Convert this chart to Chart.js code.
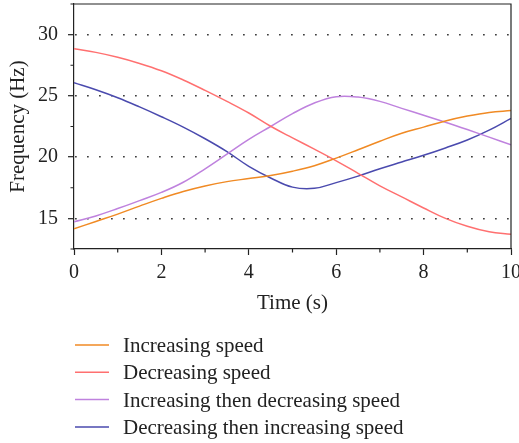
<!DOCTYPE html>
<html>
<head>
<meta charset="utf-8">
<script src="https://cdn.jsdelivr.net/npm/chart.js@4.4.1/dist/chart.umd.min.js"></script>
<style>
  html, body { margin: 0; padding: 0; background: #fff; }
  #wrap { width: 519px; height: 443px; }
</style>
</head>
<body>
<div id="wrap"><canvas id="c" width="519" height="443"></canvas></div>
<script>
// Time samples (s)
const timeS = [0, 0.5, 1, 1.5, 2, 2.5, 3, 3.5, 4, 4.5, 5, 5.5, 6, 6.5, 7, 7.5, 8, 8.5, 9, 9.5, 10];

// Frequency (Hz) for each speed profile
const increasingSpeed = [14.15, 14.75, 15.35, 16.0, 16.63, 17.2, 17.65, 18.0, 18.25, 18.5, 18.85, 19.3, 19.92, 20.6, 21.3, 21.95, 22.45, 22.95, 23.35, 23.65, 23.8];
const decreasingSpeed = [28.85, 28.55, 28.15, 27.65, 27.05, 26.3, 25.45, 24.55, 23.6, 22.52, 21.57, 20.65, 19.7, 18.68, 17.65, 16.75, 15.85, 15.0, 14.35, 13.9, 13.7];
const incThenDecSpeed = [14.72, 15.2, 15.8, 16.45, 17.12, 17.95, 19.05, 20.25, 21.45, 22.5, 23.55, 24.42, 24.93, 24.9, 24.55, 23.98, 23.42, 22.85, 22.25, 21.63, 21.0];
const decThenIncSpeed = [26.07, 25.5, 24.85, 24.1, 23.3, 22.45, 21.5, 20.45, 19.25, 18.3, 17.55, 17.45, 17.92, 18.45, 19.05, 19.6, 20.15, 20.75, 21.4, 22.2, 23.16];

const seriesLabels = ['Increasing speed', 'Decreasing speed', 'Increasing then decreasing speed', 'Decreasing then increasing speed'];
const seriesColors = ['#f08a24', '#ff7070', '#bf82de', '#4a4aae'];
const seriesValues = [increasingSpeed, decreasingSpeed, incThenDecSpeed, decThenIncSpeed];

const yMajorTicks = [15, 20, 25, 30];
const xMajorTicks = [0, 2, 4, 6, 8, 10];

const FONT = '"Liberation Serif", "DejaVu Serif", serif';
const INK = '#222';

// Frame (top/right edges) plus short minor tick marks on both axes
const frame = {
  id: 'frame',
  afterDraw(chart) {
    const { ctx, chartArea: a, scales } = chart;
    ctx.save();
    ctx.strokeStyle = INK;
    ctx.lineWidth = 1.2;
    ctx.beginPath();
    ctx.moveTo(a.left, a.top);
    ctx.lineTo(a.right, a.top);
    ctx.lineTo(a.right, a.bottom);
    ctx.stroke();

    const minorLen = 3.5;
    ctx.beginPath();
    scales.y.ticks.forEach(t => {
      if (yMajorTicks.includes(t.value)) return;
      const y = scales.y.getPixelForValue(t.value);
      ctx.moveTo(a.left - minorLen, y);
      ctx.lineTo(a.left, y);
    });
    scales.x.ticks.forEach(t => {
      if (xMajorTicks.includes(t.value)) return;
      const x = scales.x.getPixelForValue(t.value);
      ctx.moveTo(x, a.bottom);
      ctx.lineTo(x, a.bottom + minorLen);
    });
    ctx.stroke();
    ctx.restore();
  }
};

// Vertical legend below the axes
const stackedLegend = {
  id: 'stackedLegend',
  afterDraw(chart) {
    const { ctx } = chart;
    const x0 = 75, lineLen = 34, textX = 123, y0 = 345, rowH = 27.3;
    ctx.save();
    ctx.font = '21px ' + FONT;
    ctx.textBaseline = 'alphabetic';
    ctx.fillStyle = INK;
    chart.data.datasets.forEach((ds, i) => {
      const y = y0 + i * rowH;
      ctx.strokeStyle = ds.borderColor;
      ctx.lineWidth = 1.5;
      ctx.beginPath();
      ctx.moveTo(x0, y);
      ctx.lineTo(x0 + lineLen, y);
      ctx.stroke();
      ctx.fillText(ds.label, textX, y + 7);
    });
    ctx.restore();
  }
};

const datasets = seriesLabels.map((label, i) => ({
  label,
  data: timeS.map((t, j) => ({ x: t, y: seriesValues[i][j] })),
  borderColor: seriesColors[i],
  backgroundColor: seriesColors[i],
  borderWidth: 1.5,
  pointRadius: 0,
  tension: 0.4,
  fill: false
}));

new Chart(document.getElementById('c'), {
  type: 'line',
  data: { datasets },
  plugins: [frame, stackedLegend],
  options: {
    responsive: false,
    animation: false,
    layout: { padding: { left: 6, top: 4, right: 8, bottom: 127 } },
    plugins: { legend: { display: false }, tooltip: { enabled: false } },
    scales: {
      x: {
        type: 'linear',
        min: 0,
        max: 10,
        afterFit(scale) {
          scale.height = 67;
          scale.paddingLeft = 0;
          scale.paddingRight = 0;
        },
        ticks: {
          stepSize: 1,
          autoSkip: false,
          maxRotation: 0,
          padding: 6,
          color: INK,
          font: { family: FONT, size: 20 },
          callback: v => xMajorTicks.includes(v) ? String(v) : ''
        },
        grid: {
          drawOnChartArea: false,
          drawTicks: true,
          tickLength: 6,
          tickColor: ctx => (ctx.tick && xMajorTicks.includes(ctx.tick.value)) ? INK : 'rgba(0,0,0,0)',
          tickWidth: 1.2
        },
        border: { color: INK, width: 1.2 },
        title: {
          display: true,
          text: 'Time (s)',
          color: INK,
          font: { family: FONT, size: 21 },
          padding: { top: 4, bottom: 0 }
        }
      },
      y: {
        min: 12.5,
        max: 32.5,
        afterFit(scale) {
          scale.width = 68;
          scale.paddingTop = 0;
          scale.paddingBottom = 0;
        },
        ticks: {
          stepSize: 2.5,
          autoSkip: false,
          padding: 10,
          color: INK,
          font: { family: FONT, size: 20 },
          callback: v => yMajorTicks.includes(v) ? String(v) : ''
        },
        grid: {
          drawOnChartArea: true,
          drawTicks: true,
          tickLength: 6,
          tickColor: ctx => (ctx.tick && yMajorTicks.includes(ctx.tick.value)) ? INK : 'rgba(0,0,0,0)',
          tickWidth: 1.2,
          color: ctx => (ctx.tick && yMajorTicks.includes(ctx.tick.value)) ? '#111' : 'rgba(0,0,0,0)',
          lineWidth: 1.4
        },
        border: { color: INK, width: 1.2, dash: [1.4, 10.6], dashOffset: 11 },
        title: {
          display: true,
          text: 'Frequency (Hz)',
          color: INK,
          font: { family: FONT, size: 21 },
          padding: { top: 0, bottom: 6 }
        }
      }
    }
  }
});
</script>
</body>
</html>
